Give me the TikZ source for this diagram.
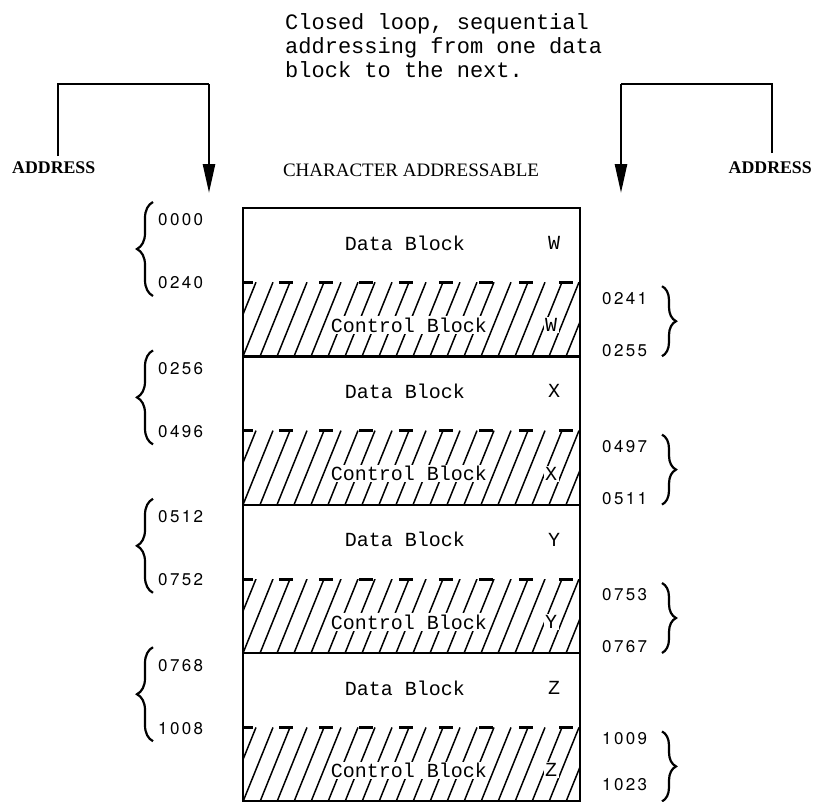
\documentclass[tikz,border=0pt]{standalone}
\usepackage{fontspec}
\setmainfont{Liberation Serif}
\newfontfamily\tw{Liberation Mono}
\newfontfamily\numf[LetterSpace=14]{TeX Gyre Heros}
\usetikzlibrary{arrows.meta,decorations.pathreplacing}
\tikzset{
  boxline/.style={line width=2.4pt},
  hatchline/.style={line width=1.5pt},
  topdash/.style={line width=3pt, dash pattern=on 14pt off 26pt, dash phase=4pt},
  bracketline/.style={line width=2.6pt},
  arrowline/.style={line width=2.6pt, -{Triangle[length=29pt,width=12pt]}},
  bracebig/.style={line width=2.2pt, decorate, decoration={brace, amplitude=16pt}},
  bracesmall/.style={line width=2.2pt, decorate, decoration={brace, amplitude=14pt}},
  numlbl/.style={font=\numf\fontsize{17}{17}\selectfont, anchor=west, inner sep=0pt},
  blocktxt/.style={font=\tw\fontsize{20}{20}\selectfont, inner sep=1.5pt},
  toptxt/.style={font=\tw\fontsize{22}{24}\selectfont, anchor=base west, inner sep=0pt},
  headtxt/.style={font=\fontsize{19}{19}\selectfont, inner sep=0pt},
  addrtxt/.style={font=\bfseries\fontsize{17.8}{17.8}\selectfont, inner sep=0pt}
}
\begin{document}
\begin{tikzpicture}[x=1pt,y=-1pt]
\path[use as bounding box, clip] (0,0) rectangle (814,801);
\fill[white] (0,0) rectangle (814,801);

% top text
\node[toptxt] (t1) at (285,29) {Closed loop, sequential};
\node[toptxt] (t2) at (285,53) {addressing from one data};
\node[toptxt] (t3) at (285,77) {block to the next.};

% headings
\node[addrtxt, anchor=west] (addrL) at (12,168) {ADDRESS};
\node[addrtxt, anchor=east] (addrR) at (812,168) {ADDRESS};
\node[headtxt] (charaddr) at (411,170) {CHARACTER ADDRESSABLE};

% brackets and arrows
\coordinate (lA) at (58,156);
\coordinate (lB) at (58,84);
\coordinate (lC) at (209,84);
\coordinate (lD) at (209,193);
\coordinate (rA) at (772,153);
\coordinate (rB) at (772,84);
\coordinate (rC) at (621,84);
\coordinate (rD) at (621,193);
\draw[bracketline] (lA) -- (lB) -- (lC);
\draw[arrowline] (lC) -- (lD);
\draw[bracketline] (rA) -- (rB) -- (rC);
\draw[arrowline] (rC) -- (rD);

% outer box
\coordinate (bxBL) at (243,840);
\coordinate (bxTL) at (243,208);
\coordinate (bxTR) at (580,208);
\coordinate (bxBR) at (580,840);

\foreach \k/\L/\ls/\le/\rs/\re/\ra/\rb in {0/W/0000/0240/0241/0255/16/68, 1/X/0256/0496/0497/0511/16/68, 2/Y/0512/0752/0753/0767/16/68, 3/Z/0768/1008/1009/1023/11/57}{
  \pgfmathsetmacro{\T}{208+148.4*\k}
  \pgfmathsetmacro{\C}{\T+74.2}
  \pgfmathsetmacro{\B}{\C+74.2}
  % hatching
  \begin{scope}
    \clip (243,\C) rectangle (580,\B);
    \foreach \i in {-2,...,20}{
      \draw[hatchline] (243+17*\i,\B) -- ++(30,-74.2);
    }
  \end{scope}
  \draw[topdash] (243,\C) -- (580,\C);
  \draw[boxline] (243,\B) -- (580,\B);
  % texts
  \node[blocktxt] (d\k) at (405,\T+35) {Data Block};
  \node[blocktxt] (dl\k) at (554,\T+35) {\L};
  \node[blocktxt, fill=white] (c\k) at (409,\C+43) {Control Block};
  \node[blocktxt, fill=white] (cl\k) at (551,\C+43) {\L};
  % left labels and brace
  \node[numlbl] (ls\k) at (158,\T+12) {\ls};
  \node[numlbl] (le\k) at (158,\T+75) {\le};
  \draw[bracebig] (153,\T+88) -- (153,\T-6);
  % right labels and brace
  \node[numlbl] (rs\k) at (602,\C+\ra) {\rs};
  \node[numlbl] (re\k) at (602,\C+\rb) {\re};
  \draw[bracesmall] (662,\C+4) -- (662,\C+74);
}

\draw[boxline] (bxBL) -- (bxTL) -- (bxTR) -- (bxBR);
\end{tikzpicture}
\end{document}
